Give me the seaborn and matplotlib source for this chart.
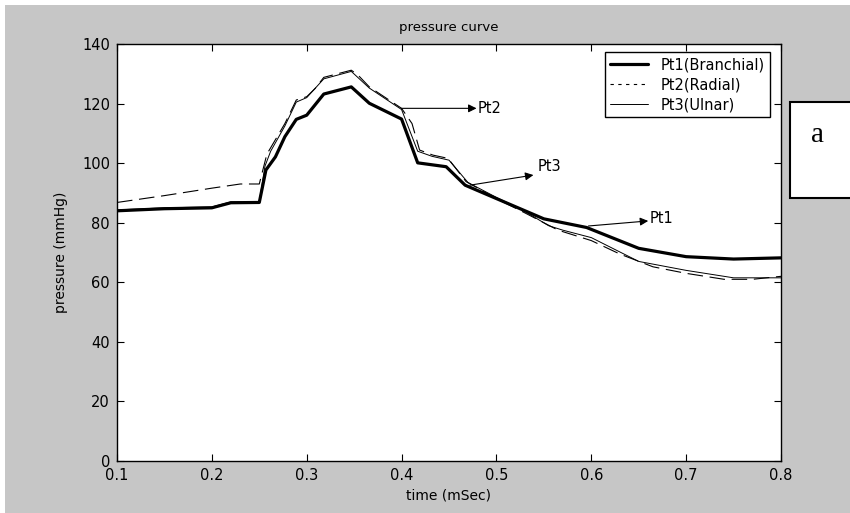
import numpy as np
import pandas as pd
import seaborn as sns
import matplotlib.pyplot as plt
from matplotlib.patches import Rectangle

# values
time_pt1 = [0.100, 0.150, 0.200, 0.220, 0.250, 0.257, 0.267, 0.277, 0.289, 0.300, 0.318, 0.347,
            0.366, 0.400, 0.417, 0.447, 0.467, 0.500, 0.550, 0.595, 0.650, 0.700, 0.750, 0.800]
pt1 = [84.0, 84.7, 85.0, 86.7, 86.8, 97.7, 102.1, 108.9, 114.7, 116.1, 123.2, 125.6,
       120.1, 114.8, 100.1, 98.8, 92.6, 88.1, 81.3, 78.4, 71.4, 68.6, 67.8, 68.2]

time_pt2 = [0.100, 0.150, 0.200, 0.230, 0.250, 0.258, 0.277, 0.289, 0.300, 0.309, 0.318, 0.347,
            0.354, 0.366, 0.400, 0.411, 0.419, 0.433, 0.449, 0.468, 0.500, 0.530, 0.565, 0.600,
            0.630, 0.665, 0.700, 0.740, 0.770, 0.800]
pt2 = [86.8, 89.1, 91.6, 93.0, 93.0, 103.0, 113.3, 121.2, 122.3, 125.1, 128.8, 131.2,
       129.6, 125.6, 118.4, 113.3, 104.4, 102.7, 101.6, 93.8, 88.1, 83.3, 77.5, 74.0,
       69.5, 65.2, 63.0, 61.0, 61.0, 62.0]

time_pt3 = [0.100, 0.150, 0.200, 0.220, 0.250, 0.256, 0.262, 0.277, 0.289, 0.300, 0.318, 0.347,
            0.366, 0.400, 0.417, 0.432, 0.450, 0.470, 0.500, 0.530, 0.555, 0.570, 0.600, 0.650,
            0.700, 0.750, 0.800]
pt3 = [84.3, 85.0, 85.3, 87.0, 87.0, 99.0, 104.0, 112.5, 120.5, 122.0, 128.3, 130.8,
       125.2, 118.0, 104.0, 102.3, 101.0, 93.5, 88.5, 83.8, 79.0, 77.5, 75.0, 67.0,
       64.0, 61.5, 61.5]

labels = ["Pt1(Branchial)", "Pt2(Radial)", "Pt3(Ulnar)"]
x_ticks = [0.1, 0.2, 0.3, 0.4, 0.5, 0.6, 0.7, 0.8]
y_ticks = [0, 20, 40, 60, 80, 100, 120, 140]

# arrow notes: (text, start of arrow, arrow tip, text position)
notes = [("Pt2", (0.400, 118.4), (0.479, 118.4), (0.480, 118.3)),
         ("Pt3", (0.472, 92.6), (0.539, 96.0), (0.543, 99.0)),
         ("Pt1", (0.597, 78.9), (0.660, 80.6), (0.662, 81.4))]

df1 = pd.DataFrame({"t": time_pt1, "p": pt1})
df2 = pd.DataFrame({"t": time_pt2, "p": pt2})
df3 = pd.DataFrame({"t": time_pt3, "p": pt3})

sns.set_style("ticks")
plt.rcParams["font.family"] = ["DejaVu Sans"]
plt.rcParams["font.size"] = 10
plt.rcParams["text.color"] = "black"
plt.rcParams["axes.labelcolor"] = "black"

W, H = 850, 513
fig = plt.figure(figsize=(W / 100, H / 100), dpi=100, facecolor="white")
fig.add_artist(Rectangle((5 / W, 0), 1, 1 - 5 / H, transform=fig.transFigure,
                         facecolor="#c6c6c6", edgecolor="none", zorder=-10))

ax = fig.add_axes([117 / W, 1 - 461 / H, (781 - 117) / W, (461 - 44) / H])
ax.set_facecolor("white")

sns.lineplot(ax=ax, data=df1, x="t", y="p", color="black", linewidth=2.3,
             label=labels[0], estimator=None, sort=False)
sns.lineplot(ax=ax, data=df2, x="t", y="p", color="black", linewidth=0.8,
             label=labels[1], estimator=None, sort=False, dashes=False)
ax.lines[-1].set_dashes((14, 6))
sns.lineplot(ax=ax, data=df3, x="t", y="p", color="black", linewidth=0.7,
             label=labels[2], estimator=None, sort=False)

for txt, start, tip, tpos in notes:
    ax.annotate("", xy=tip, xytext=start,
                arrowprops=dict(arrowstyle="-|>", color="black", lw=0.8,
                                mutation_scale=12, shrinkA=0, shrinkB=0))
    ax.text(tpos[0], tpos[1], txt, fontsize=10.5, va="center", ha="left", color="black")

ax.set_xlim(0.1, 0.8)
ax.set_ylim(0, 140)
ax.set_xticks(x_ticks)
ax.set_xticklabels([str(v) for v in x_ticks])
ax.set_yticks(y_ticks)
ax.tick_params(direction="in", length=5, width=0.8, top=True, right=True,
               labelsize=10.5, colors="black", pad=5)
for s in ax.spines.values():
    s.set_visible(True)
    s.set_color("black")
    s.set_linewidth(1.0)

ax.set_xlabel("time (mSec)", fontsize=10, labelpad=4, color="black")
ax.set_ylabel("pressure (mmHg)", fontsize=10, labelpad=10, color="black")
ax.set_title("pressure curve", fontsize=9.5, pad=9, color="black")

leg = ax.legend(loc="upper right", bbox_to_anchor=((770 - 117) / 664, 1 - (52 - 44) / 417),
                borderaxespad=0, fancybox=False, framealpha=1, edgecolor="black",
                fontsize=10.5, handlelength=2.6, handletextpad=0.9, labelspacing=0.35,
                borderpad=0.35)
leg.get_frame().set_linewidth(1.0)
leg.legend_handles[1].set_dashes((3, 4))
for t in leg.get_texts():
    t.set_color("black")

# the little "a" panel tag at the right edge
fig.add_artist(Rectangle((790 / W, 1 - 198 / H), 1, 96 / H, transform=fig.transFigure,
                         facecolor="white", edgecolor="black", linewidth=1.5, zorder=5))
fig.text(818 / W, 1 - 135 / H, "a", fontsize=21, family="Liberation Serif",
         ha="center", va="center", zorder=6)

fig.savefig("out.png", dpi=100, facecolor=fig.get_facecolor())
